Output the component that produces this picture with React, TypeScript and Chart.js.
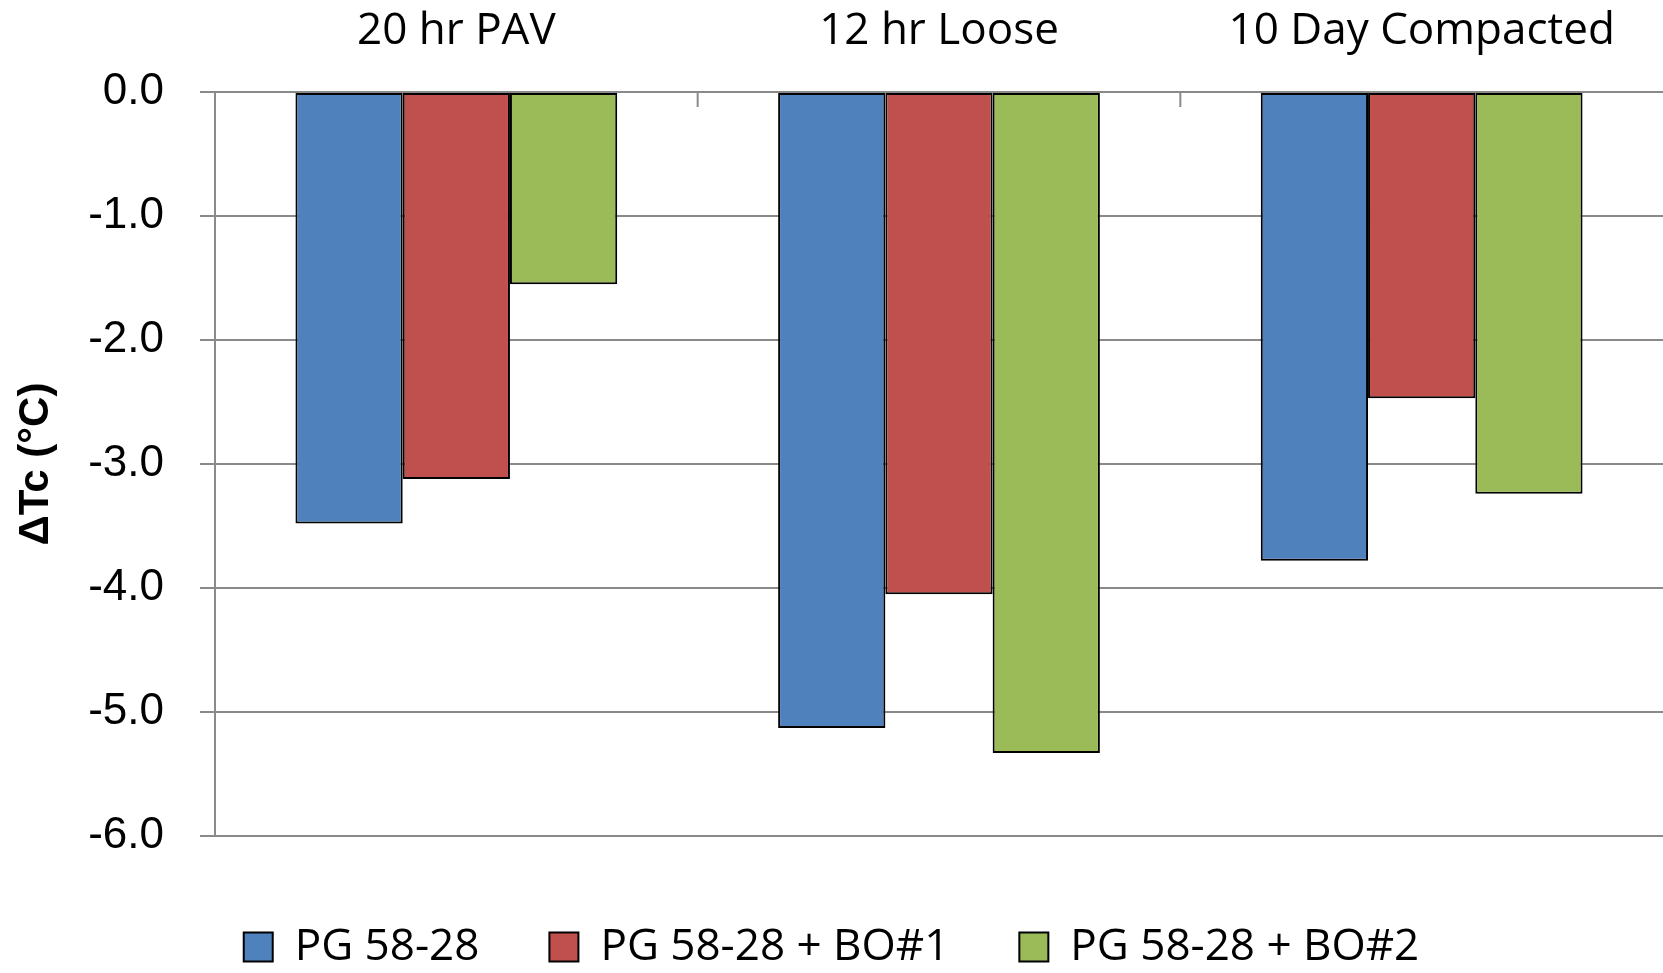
import React, { useEffect, useRef } from "react";
import { Chart, registerables } from "chart.js";

Chart.register(...registerables);

const categories = ["20 hr PAV", "12 hr Loose", "10 Day Compacted"];
const seriesNames = ["PG 58-28", "PG 58-28 + BO#1", "PG 58-28 + BO#2"];
const pg5828 = [-3.48, -5.13, -3.78];
const pgBO1 = [-3.12, -4.05, -2.47];
const pgBO2 = [-1.55, -5.33, -3.24];
const seriesColors = ["#4F81BD", "#C0504D", "#9BBB59"];
const yMin = -6;
const yMax = 0;
const yStep = 1;
const yTitle = "ΔTc (°C)";

const GRID = "#8a8a8a";
const LEGEND_SHIFT = 6;

const innerTicks = {
  id: "innerTicks",
  afterDraw(chart: any) {
    const x = chart.scales.x;
    const area = chart.chartArea;
    const ctx = chart.ctx;
    ctx.save();
    ctx.strokeStyle = GRID;
    ctx.lineWidth = 2;
    for (let i = 1; i < categories.length; i++) {
      const px = (x.getPixelForTick(i - 1) + x.getPixelForTick(i)) / 2;
      ctx.beginPath();
      ctx.moveTo(px, area.top);
      ctx.lineTo(px, area.top + 15);
      ctx.stroke();
    }
    ctx.restore();
  },
};

export default function App() {
  const ref = useRef<HTMLCanvasElement | null>(null);
  useEffect(() => {
    if (!ref.current) return;
    const values = [pg5828, pgBO1, pgBO2];
    const chart = new Chart(ref.current, {
      type: "bar",
      data: {
        labels: categories,
        datasets: seriesNames.map((name, i) => ({
          label: name,
          data: values[i],
          backgroundColor: seriesColors[i],
          borderColor: "#000000",
          borderWidth: 2,
          borderSkipped: false,
          categoryPercentage: 2 / 3,
          barPercentage: 1,
        })),
      },
      options: {
        responsive: false,
        animation: false,
        layout: { padding: { left: 0, right: 0, top: 0, bottom: -LEGEND_SHIFT } },
        plugins: {
          tooltip: { enabled: false },
          legend: {
            position: "bottom",
            title: {
              display: true,
              text: "",
              font: { size: 1, lineHeight: 1 },
              padding: { top: 12 + LEGEND_SHIFT, bottom: 0 },
            },
            labels: {
              color: "#000",
              boxWidth: 29,
              boxHeight: 29,
              padding: 70,
              font: { family: "'Open Sans'", size: 44 },
            },
          },
        },
        scales: {
          x: {
            position: "top",
            grid: { display: false },
            border: { display: false },
            ticks: {
              color: "#000",
              padding: 26,
              font: { family: "'Open Sans'", size: 44 },
            },
            afterFit: (s: any) => {
              s.height = 92;
            },
          },
          y: {
            min: yMin,
            max: yMax,
            grid: { color: GRID, lineWidth: 2, tickLength: 15, tickColor: GRID },
            border: { display: true, color: GRID, width: 2 },
            ticks: {
              stepSize: yStep,
              color: "#000",
              padding: 36,
              font: { family: "'Liberation Sans', Arial", size: 44 },
              callback: (v: any) => Number(v).toFixed(1),
            },
            title: {
              display: true,
              text: yTitle,
              color: "#000",
              padding: { top: 11, bottom: 0 },
              font: { family: "'Liberation Sans', Arial", size: 42, weight: "bold" },
            },
            afterFit: (s: any) => {
              s.width = 215;
            },
          },
        },
      },
      plugins: [innerTicks],
    });
    return () => chart.destroy();
  }, []);
  return (
    <div style={{ position: "absolute", left: 0, top: 0, width: 1663, height: 973, background: "#fff" }}>
      <canvas ref={ref} width={1663} height={973} style={{ display: "block" }} />
    </div>
  );
}
